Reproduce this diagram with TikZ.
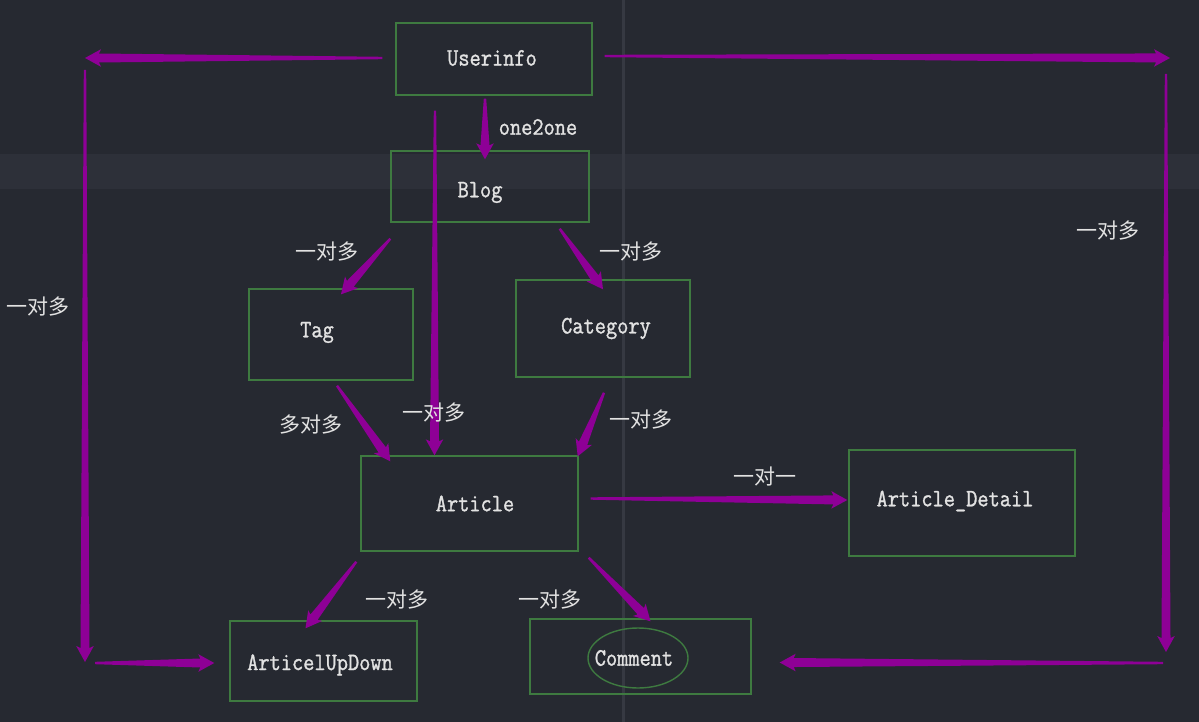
\documentclass[tikz,border=0pt]{standalone}
\usepackage{fontspec}
\usetikzlibrary{calc,shapes.geometric}
\newfontfamily\cjk{Noto Sans CJK SC}
\newfontfamily\monof[FakeStretch=0.87,FakeBold=1.2]{Latin Modern Mono}
\definecolor{bgc}{HTML}{262931}
\definecolor{bandc}{HTML}{2D3039}
\definecolor{vlinec}{HTML}{363942}
\definecolor{boxc}{HTML}{3E7A40}
\definecolor{arrowc}{HTML}{8E0096}
\definecolor{txtc}{HTML}{E2E2E2}
% tapered arrow from #1 to #2 (thin start, thick end, blunt head)
\newcommand\tarrow[2]{%
  \fill[arrowc] let \p1=(#1), \p2=(#2), \n1={atan2(\y2-\y1,\x2-\x1)} in
    ($(\p1)+(\n1+90:1.2pt)$) --
    ($(\p2)+(\n1+180:14pt)+(\n1+90:4.5pt)$) --
    ($(\p2)+(\n1+180:16pt)+(\n1+90:8.8pt)$) --
    (\p2) --
    ($(\p2)+(\n1+180:16pt)+(\n1-90:8.8pt)$) --
    ($(\p2)+(\n1+180:14pt)+(\n1-90:4.5pt)$) --
    ($(\p1)+(\n1-90:1.2pt)$) -- cycle;}
% shift the text of a box: #1 = twice the horizontal shift, #2 = vertical shift
\newcommand\sx[3]{\hspace*{#1}\raisebox{#2}[\height][\depth]{#3}}
\tikzset{
  box/.style={draw=boxc, line width=1.4pt, text=txtc, inner sep=0pt,
    font=\monof\fontsize{25pt}{27pt}\selectfont},
  rel/.style={text=txtc, inner sep=0pt, font=\cjk\fontsize{21pt}{23pt}\selectfont},
  eng/.style={text=txtc, inner sep=0pt, font=\monof\fontsize{25pt}{27pt}\selectfont}
}
\begin{document}
\begin{tikzpicture}[x=1pt,y=-1pt]
  \fill[bgc] (0,0) rectangle (1199,722);
  \fill[bandc] (0,154) rectangle (1199,189);
  \fill[vlinec] (622,0) rectangle (624.5,722);

  % boxes
  \node[box, minimum width=196pt, minimum height=72pt] (userinfo) at (494,59) {\sx{-4pt}{1pt}{Userinfo}};
  \node[box, minimum width=198pt, minimum height=71pt] (blog) at (490,186.5) {\sx{-20pt}{-6pt}{Blog}};
  \node[box, minimum width=164pt, minimum height=91pt] (tag) at (331,334.5) {\sx{-28pt}{2pt}{Tag}};
  \node[box, minimum width=174pt, minimum height=97pt] (category) at (603,328.5) {\sx{6pt}{0pt}{Category}};
  \node[box, minimum width=217pt, minimum height=95pt] (article) at (469.5,503.5) {\sx{11pt}{0pt}{Article}};
  \node[box, minimum width=226pt, minimum height=106pt] (detail) at (962,503) {\sx{-14pt}{2pt}{Article\_Detail}};
  \node[box, minimum width=187pt, minimum height=80pt] (updown) at (323.5,661) {\sx{-7pt}{-4pt}{ArticelUpDown}};
  \node[box, minimum width=221pt, minimum height=75pt] (comment) at (640.5,656.5) {};
  \node[box, ellipse, minimum width=100pt, minimum height=60pt] (cell) at (638,658) {\sx{-8pt}{0pt}{Comment}};

  % free corner coordinates
  \coordinate (cL1) at (85,58);
  \coordinate (cL2) at (85,70);
  \coordinate (cL3) at (85,662);
  \coordinate (cL4) at (95,663);
  \coordinate (cR1) at (1170,58);
  \coordinate (cR2) at (1166,74);
  \coordinate (cR3) at (1166,652);
  \coordinate (cR4) at (1163,663);

  % connectors
  \tarrow{$(userinfo.south)+(-9,3)$}{$(blog.north)+(-5,9)$}
  \tarrow{$(userinfo.west)+(-13,-1)$}{cL1}
  \tarrow{cL2}{cL3}
  \tarrow{cL4}{$(updown.west)+(-15,2)$}
  \tarrow{$(userinfo.east)+(12,-3)$}{cR1}
  \tarrow{cR2}{cR3}
  \tarrow{cR4}{$(comment.east)+(28,6)$}
  \tarrow{$(blog.south west)+(0,16)$}{$(tag.north)+(10,6)$}
  \tarrow{$(blog.south east)+(-30,6)$}{$(category.north)+(0,10)$}
  \tarrow{$(userinfo.south)+(-59,15)$}{$(article.north)+(-35,0)$}
  \tarrow{$(tag.south)+(6,5)$}{$(article.north west)+(30,6)$}
  \tarrow{$(category.south)+(1,15)$}{$(article.north east)+(-1,1)$}
  \tarrow{$(article.east)+(12,-5)$}{$(detail.west)+(-1,-3)$}
  \tarrow{$(article.south west)+(-4,10)$}{$(updown.north)+(-18,8)$}
  \tarrow{$(article.south east)+(10,6)$}{$(comment.north)+(10,3)$}

  % labels
  \node[eng] (l1) at (538,127) {one2one};
  \node[rel] (l2) at (38,307) {一对多};
  \node[rel] (l3) at (1108,231) {一对多};
  \node[rel] (l4) at (327,252) {一对多};
  \node[rel] (l5) at (631,252) {一对多};
  \node[rel] (l6) at (434,413) {一对多};
  \node[rel] (l7) at (311,425) {多对多};
  \node[rel] (l8) at (641,420) {一对多};
  \node[rel] (l9) at (765,477) {一对一};
  \node[rel] (l10) at (397,600) {一对多};
  \node[rel] (l11) at (550,600) {一对多};
\end{tikzpicture}
\end{document}
